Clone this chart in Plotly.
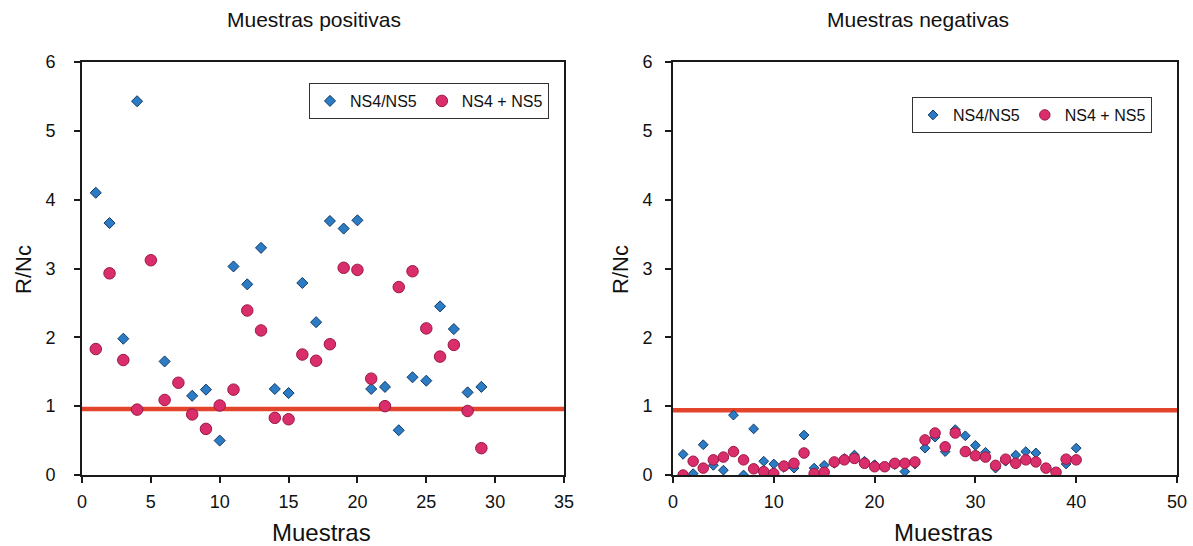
import plotly.graph_objects as go

# ---- data: Muestras positivas ----
pos_x = list(range(1, 30))
pos_ns4_ns5 = [4.10, 3.66, 1.98, 5.43, None, 1.65, None, 1.15, 1.24, 0.50,
               3.03, 2.77, 3.30, 1.25, 1.19, 2.79, 2.22, 3.69, 3.58, 3.70,
               1.25, 1.28, 0.65, 1.42, 1.37, 2.45, 2.12, 1.20, 1.28]
pos_ns4_plus_ns5 = [1.83, 2.93, 1.67, 0.95, 3.12, 1.09, 1.34, 0.88, 0.67, 1.01,
                    1.24, 2.39, 2.10, 0.83, 0.81, 1.75, 1.66, 1.90, 3.01, 2.98,
                    1.40, 1.00, 2.73, 2.96, 2.13, 1.72, 1.89, 0.93, 0.39]
pos_cutoff = 0.96

# ---- data: Muestras negativas ----
neg_x = list(range(1, 41))
neg_ns4_ns5 = [0.30, 0.02, 0.44, 0.14, 0.07, 0.87, 0.00, 0.67, 0.20, 0.16,
               0.11, 0.10, 0.58, 0.10, 0.14, 0.17, 0.24, 0.29, 0.20, 0.15,
               0.12, 0.15, 0.05, 0.16, 0.39, 0.55, 0.34, 0.66, 0.57, 0.43,
               0.33, 0.10, 0.20, 0.29, 0.34, 0.32, 0.10, 0.03, 0.16, 0.39]
neg_ns4_plus_ns5 = [0.00, 0.20, 0.10, 0.22, 0.26, 0.34, 0.22, 0.09, 0.05, 0.02,
                    0.13, 0.17, 0.32, 0.02, 0.04, 0.19, 0.22, 0.24, 0.17, 0.12,
                    0.12, 0.17, 0.17, 0.19, 0.51, 0.61, 0.41, 0.61, 0.34, 0.28,
                    0.26, 0.14, 0.23, 0.17, 0.22, 0.19, 0.10, 0.04, 0.23, 0.22]
neg_cutoff = 0.94

titles = ["Muestras positivas", "Muestras negativas"]
series_names = ["NS4/NS5", "NS4 + NS5"]
x_title = "Muestras"
y_title = "R/Nc"

FONT = "Arial, Liberation Sans, sans-serif"
BLUE = "#2b7cc4"
BLUE_LINE = "#123a66"
PINK = "#d92e6b"
PINK_LINE = "#9c1744"
RED = "#e2442c"

W, H = 1193, 546

fig = go.Figure()

def add_panel(xs, d1, d2, cutoff, xmax, xa, ya, legend, dsize, csize):
    fig.add_trace(go.Scatter(x=[0, xmax], y=[cutoff, cutoff], mode="lines",
                             line=dict(color=RED, width=4.5), showlegend=False,
                             xaxis=xa, yaxis=ya, hoverinfo="skip"))
    fig.add_trace(go.Scatter(x=xs, y=d1, mode="markers", name=series_names[0],
                             marker=dict(symbol="diamond", size=dsize, color=BLUE,
                                         line=dict(color=BLUE_LINE, width=1)),
                             xaxis=xa, yaxis=ya, legend=legend))
    fig.add_trace(go.Scatter(x=xs, y=d2, mode="markers", name=series_names[1],
                             marker=dict(symbol="circle", size=csize, color=PINK,
                                         line=dict(color=PINK_LINE, width=1)),
                             xaxis=xa, yaxis=ya, legend=legend))

add_panel(pos_x, pos_ns4_ns5, pos_ns4_plus_ns5, pos_cutoff, 35, "x", "y", "legend", 8.5, 11.5)
add_panel(neg_x, neg_ns4_ns5, neg_ns4_plus_ns5, neg_cutoff, 50, "x2", "y2", "legend2", 7.5, 10.5)

ydom = [1 - 475 / H, 1 - 62 / H]
common_axis = dict(showgrid=False, zeroline=False, showline=True, linecolor="#1a1a1a",
                   linewidth=2, mirror=True, ticks="outside", ticklen=6, tickwidth=1.5,
                   tickcolor="#1a1a1a", automargin=False,
                   tickfont=dict(family=FONT, size=18, color="#111"))

fig.update_layout(
    width=W, height=H,
    margin=dict(l=0, r=0, t=0, b=0, pad=0, autoexpand=False),
    paper_bgcolor="white", plot_bgcolor="white",
    font=dict(family=FONT, color="#111"),
    xaxis=dict(domain=[82 / W, 564 / W], range=[0, 35], dtick=5, anchor="y",
               ticklabelstandoff=3, **common_axis),
    yaxis=dict(domain=ydom, range=[0, 6], dtick=1, anchor="x",
               ticklabelstandoff=15, **common_axis),
    xaxis2=dict(domain=[673 / W, 1177 / W], range=[0, 50], dtick=10, anchor="y2",
                ticklabelstandoff=3, **common_axis),
    yaxis2=dict(domain=ydom, range=[0, 6], dtick=1, anchor="x2",
                ticklabelstandoff=9, **common_axis),
    legend=dict(orientation="h", x=309 / W, y=1 - 83 / H, xanchor="left", yanchor="top",
                bgcolor="white", bordercolor="#333", borderwidth=1,
                font=dict(family=FONT, size=16, color="#111"), itemwidth=30),
    legend2=dict(orientation="h", x=912 / W, y=1 - 97 / H, xanchor="left", yanchor="top",
                 bgcolor="white", bordercolor="#333", borderwidth=1,
                 font=dict(family=FONT, size=16, color="#111"), itemwidth=30),
    showlegend=True,
)

def label(text, px, py, size, angle=0):
    return dict(text=text, x=px / W, y=1 - py / H, xref="paper", yref="paper",
                xanchor="center", yanchor="middle", showarrow=False, textangle=angle,
                font=dict(family=FONT, size=size, color="#111"))

ann = [
    label(titles[0], 314, 20, 21),
    label(titles[1], 918, 20, 21),
    label(x_title, 321, 532, 24),
    label(x_title, 943, 532, 24),
    label(y_title, 23, 270, 22, -90),
    label(y_title, 620, 270, 22, -90),
]
fig.update_layout(annotations=ann)

fig.write_html("out.html")
